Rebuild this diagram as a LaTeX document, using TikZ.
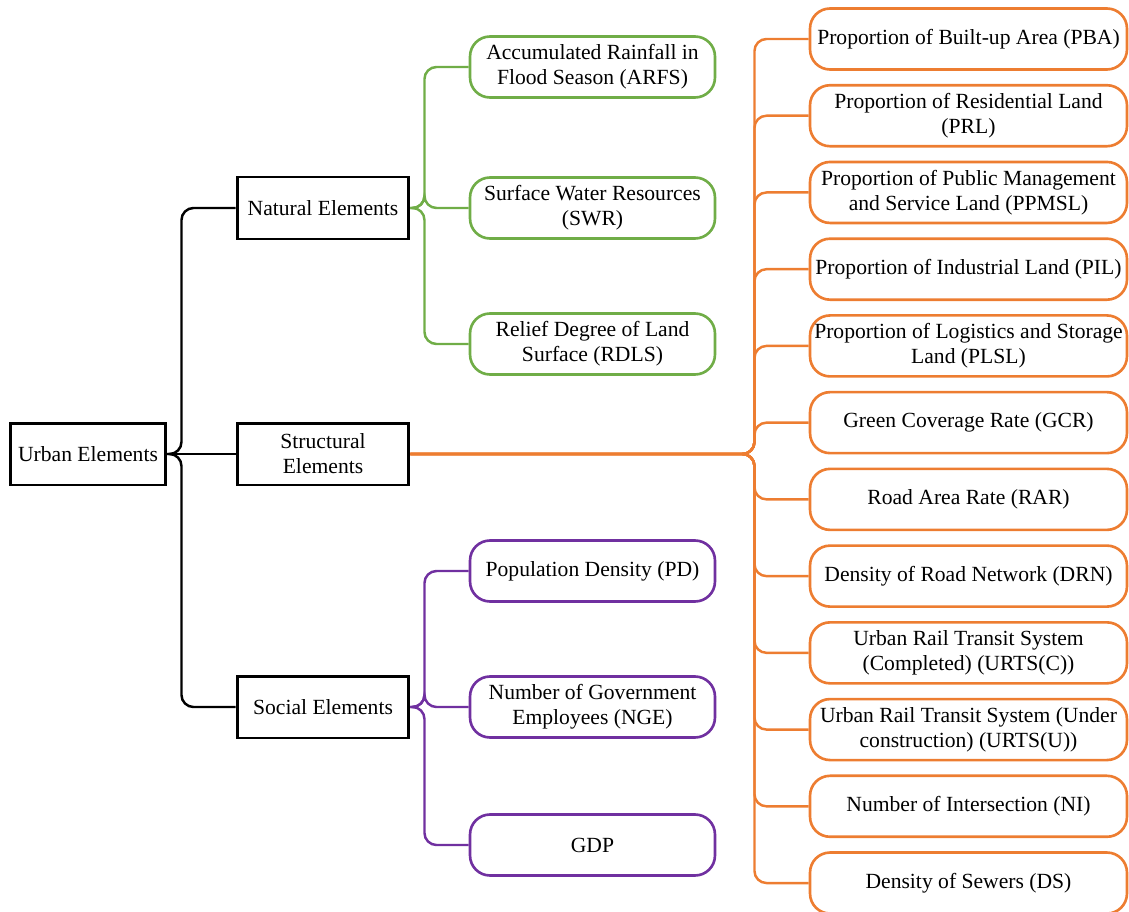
\documentclass[tikz,border=0pt]{standalone}
\usepackage{fontspec}
\setmainfont{Liberation Serif}
\usepackage{xcolor}
\usepackage{tikz}
\definecolor{elemGreen}{RGB}{112, 173, 71}
\definecolor{elemOrange}{RGB}{237, 125, 49}
\definecolor{elemPurple}{RGB}{112, 48, 160}
\tikzset{
  elemFont/.style={font=\fontsize{12.3}{14.3}\selectfont},
  mainBox/.style={draw=black, line width=1.7pt, minimum height=1.24cm, inner sep=0pt, align=center, elemFont},
  leafBox/.style={draw=#1, line width=1.5pt, rounded corners=0.4cm, minimum height=1.22cm, inner sep=0pt, align=center, elemFont},
  branch/.style={draw=#1, line width=1.4pt, rounded corners=0.24cm}
}

\begin{document}
\begin{tikzpicture}[x=0.02cm, y=-0.02cm]
\useasboundingbox (0,0) rectangle (1129,912);

% Main elements
\node[mainBox, minimum width=3.12cm] (urban) at (88,454) {Urban Elements};
\node[mainBox, minimum width=3.44cm] (natural) at (323,208) {Natural Elements};
\node[mainBox, minimum width=3.44cm] (structural) at (323,454) {Structural\\Elements};
\node[mainBox, minimum width=3.44cm] (social) at (323,707) {Social Elements};

% Natural indicators
\node[leafBox=elemGreen, minimum width=4.9cm] (arfs) at (592.5,67) {Accumulated Rainfall in\\Flood Season (ARFS)};
\node[leafBox=elemGreen, minimum width=4.9cm] (swr) at (592.5,208) {Surface Water Resources\\(SWR)};
\node[leafBox=elemGreen, minimum width=4.9cm] (rdls) at (592.5,344) {Relief Degree of Land\\Surface (RDLS)};

% Social indicators
\node[leafBox=elemPurple, minimum width=4.9cm] (pd) at (592.5,571) {Population Density (PD)};
\node[leafBox=elemPurple, minimum width=4.9cm] (nge) at (592.5,707) {Number of Government\\Employees (NGE)};
\node[leafBox=elemPurple, minimum width=4.9cm] (gdp) at (592.5,845) {GDP};

% Structural indicators
\foreach \t [count=\i] in {
  {Proportion of Built-up Area (PBA)},
  {Proportion of Residential Land\\(PRL)},
  {Proportion of Public Management\\and Service Land (PPMSL)},
  {Proportion of Industrial Land (PIL)},
  {Proportion of Logistics and Storage\\Land (PLSL)},
  {Green Coverage Rate (GCR)},
  {Road Area Rate (RAR)},
  {Density of Road Network (DRN)},
  {Urban Rail Transit System\\(Completed) (URTS(C))},
  {Urban Rail Transit System (Under\\construction) (URTS(U))},
  {Number of Intersection (NI)},
  {Density of Sewers (DS)}}
  \node[leafBox=elemOrange, minimum width=6.34cm] (s\i) at (968.5,{39+76.73*(\i-1)}) {\t};

% Connectors
\draw[branch=black] (urban.east) -- ++(14,0) |- (natural.west);
\draw[branch=black] (urban.east) -- (structural.west);
\draw[branch=black] (urban.east) -- ++(14,0) |- (social.west);
\foreach \n in {arfs,swr,rdls}
  \draw[branch=elemGreen] (natural.east) -- ++(14,0) |- (\n.west);
\foreach \n in {pd,nge,gdp}
  \draw[branch=elemPurple] (social.east) -- ++(14,0) |- (\n.west);
\foreach \i in {1,...,12}
  \draw[branch=elemOrange] (structural.east) -- ++(344,0) |- (s\i.west);
\end{tikzpicture}
\end{document}
